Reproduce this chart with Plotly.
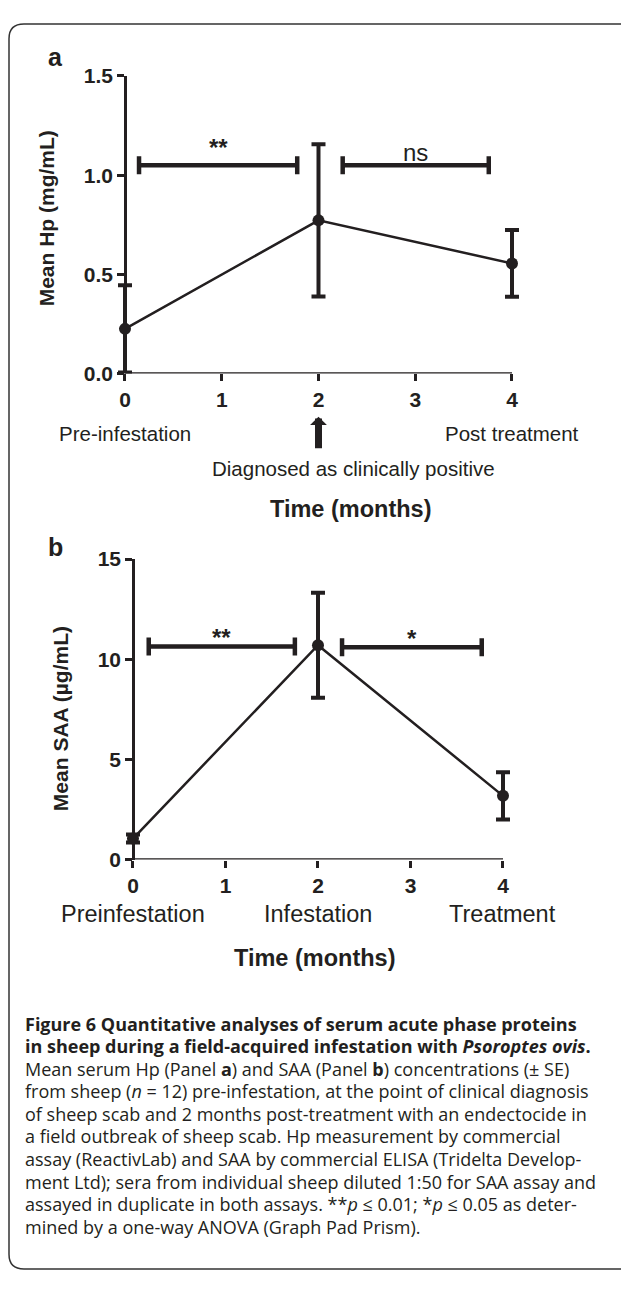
import plotly.graph_objects as go

# ---------------- data ----------------
months = [0, 2, 4]
x_ticks = [0, 1, 2, 3, 4]

hp_mean = [0.225, 0.772, 0.555]
hp_se = [0.22, 0.384, 0.168]
hp_yticks = [0, 0.5, 1.0, 1.5]
hp_yticktext = ["0.0", "0.5", "1.0", "1.5"]
hp_sig_start = [0.145, 2.25]
hp_sig_end = [1.78, 3.76]
hp_sig_y = [1.05, 1.05]
hp_sig_text = ["**", "ns"]
hp_stage_x = [0, 4]
hp_stage_text = ["Pre-infestation", "Post treatment"]

saa_mean = [1.05, 10.7, 3.18]
saa_se = [0.2, 2.62, 1.18]
saa_yticks = [0, 5, 10, 15]
saa_sig_start = [0.17, 2.26]
saa_sig_end = [1.75, 3.77]
saa_sig_y = [10.63, 10.6]
saa_sig_text = ["**", "*"]
saa_stage_x = [0, 2, 4]
saa_stage_text = ["Preinfestation", "Infestation", "Treatment"]

caption_lines = [
    "<b>Figure 6 Quantitative analyses of serum acute phase proteins</b>",
    "<b>in sheep during a field-acquired infestation with <i>Psoroptes ovis</i>.</b>",
    "Mean serum Hp (Panel <b>a</b>) and SAA (Panel <b>b</b>) concentrations (± SE)",
    "from sheep (<i>n</i> = 12) pre-infestation, at the point of clinical diagnosis",
    "of sheep scab and 2 months post-treatment with an endectocide in",
    "a field outbreak of sheep scab. Hp measurement by commercial",
    "assay (ReactivLab) and SAA by commercial ELISA (Tridelta Develop-",
    "ment Ltd); sera from individual sheep diluted 1:50 for SAA assay and",
    "assayed in duplicate in both assays. **<i>p</i> ≤ 0.01; *<i>p</i> ≤ 0.05 as deter-",
    "mined by a one-way ANOVA (Graph Pad Prism).",
]

# ---------------- layout helpers ----------------
OFF = 8                      # default page margin of the html body
W, H = 629 - 2 * OFF, 1289 - 2 * OFF
INK = "#231f20"
FONT = "Liberation Sans, Arial, sans-serif"
CAP_FONT = "Open Sans, sans-serif"


def px(v):
    return (v - OFF) / W


def py(v):
    return 1 - (v - OFF) / H


fig = go.Figure()


def add_panel(xa, ya, mean, se, sig_s, sig_e, sig_y):
    fig.add_trace(go.Scatter(
        x=months, y=mean, xaxis=xa, yaxis=ya, mode="lines+markers",
        line=dict(color=INK, width=2.5),
        marker=dict(color=INK, size=12),
        error_y=dict(type="data", array=se, visible=True, color=INK,
                     thickness=4, width=7),
        cliponaxis=False, hoverinfo="skip",
    ))
    for s, e, yv in zip(sig_s, sig_e, sig_y):
        fig.add_trace(go.Scatter(
            x=[(s + e) / 2], y=[yv], xaxis=xa, yaxis=ya, mode="markers",
            marker=dict(size=1, color="rgba(0,0,0,0)"),
            error_x=dict(type="data", array=[(e - s) / 2], visible=True,
                         color=INK, thickness=4.5, width=9),
            cliponaxis=False, hoverinfo="skip",
        ))
    # x axis line spanning exactly the tick range
    fig.add_shape(type="line", xref=xa, yref=ya, x0=x_ticks[0], x1=x_ticks[-1],
                  y0=0, y1=0, line=dict(color=INK, width=2.5))


add_panel("x", "y", hp_mean, hp_se, hp_sig_start, hp_sig_end, hp_sig_y)
add_panel("x2", "y2", saa_mean, saa_se, saa_sig_start, saa_sig_end, saa_sig_y)

axis_common = dict(
    linewidth=2.5, linecolor=INK, ticks="outside", ticklen=7,
    tickwidth=2.5, tickcolor=INK, showgrid=False, zeroline=False,
    tickfont=dict(family=FONT, size=21, color=INK, weight="bold"),
    fixedrange=True,
)

PAD = 0.15
a_x0, a_x4 = 125, 512
a_u = (a_x4 - a_x0) / 4
b_x0, b_x4 = 133, 503
b_u = (b_x4 - b_x0) / 4

fig.update_layout(
    width=W, height=H, margin=dict(l=0, r=0, t=0, b=0),
    paper_bgcolor="white", plot_bgcolor="white", showlegend=False,
    xaxis=dict(domain=[px(a_x0 - PAD * a_u), px(a_x4 + PAD * a_u)],
               range=[-PAD, 4 + PAD], tickvals=x_ticks, showline=False,
               anchor="y", **axis_common),
    yaxis=dict(domain=[py(368), py(65)], range=[0, 1.5], tickvals=hp_yticks,
               ticktext=hp_yticktext, anchor="free", position=px(a_x0),
               showline=True, **axis_common),
    xaxis2=dict(domain=[px(b_x0 - PAD * b_u), px(b_x4 + PAD * b_u)],
                range=[-PAD, 4 + PAD], tickvals=x_ticks, showline=False,
                anchor="y2", **axis_common),
    yaxis2=dict(domain=[py(863), py(557)], range=[0, 15], tickvals=saa_yticks,
                anchor="free", position=px(b_x0), showline=True, **axis_common),
)

ann = []

# significance labels
sig_shift_a = [18, 13]
for s, e, yv, t, sh in zip(hp_sig_start, hp_sig_end, hp_sig_y, hp_sig_text, sig_shift_a):
    ann.append(dict(x=(s + e) / 2, y=yv, xref="x", yref="y", text=t, showarrow=False,
                    yanchor="middle", yshift=sh,
                    font=dict(family=FONT, size=24, color=INK,
                              weight="bold" if "*" in t else "normal")))
sig_shift_b = [9, 9]
for s, e, yv, t, sh in zip(saa_sig_start, saa_sig_end, saa_sig_y, saa_sig_text, sig_shift_b):
    ann.append(dict(x=(s + e) / 2, y=yv, xref="x2", yref="y2", text=t, showarrow=False,
                    yanchor="middle", yshift=sh,
                    font=dict(family=FONT, size=24, color=INK, weight="bold")))

# stage labels
for xv, t in zip(hp_stage_x, hp_stage_text):
    ann.append(dict(x=xv, y=py(429), xref="x", yref="paper", text=t, showarrow=False,
                    xanchor="center", yanchor="middle",
                    font=dict(family=FONT, size=20.5, color=INK)))
ann.append(dict(x=px(353), y=py(465), xref="paper", yref="paper",
                text="Diagnosed as clinically positive", showarrow=False,
                xanchor="center", yanchor="middle",
                font=dict(family=FONT, size=20.5, color=INK)))
ann.append(dict(x=2, y=py(412), xref="x", yref="paper", text="", showarrow=True,
                ax=0, ay=33, arrowhead=1, arrowwidth=7, arrowsize=0.4,
                arrowcolor=INK, standoff=0))
for xv, t in zip(saa_stage_x, saa_stage_text):
    ann.append(dict(x=xv, y=py(918), xref="x2", yref="paper", text=t, showarrow=False,
                    xanchor="center", yanchor="middle",
                    font=dict(family=FONT, size=23.5, color=INK)))

# axis titles
ann.append(dict(x=px(350), y=py(506), xref="paper", yref="paper", text="Time (months)",
                showarrow=False, xanchor="center", yanchor="middle",
                font=dict(family=FONT, size=23.5, color=INK, weight="bold")))
ann.append(dict(x=px(314), y=py(963), xref="paper", yref="paper", text="Time (months)",
                showarrow=False, xanchor="center", yanchor="middle",
                font=dict(family=FONT, size=23.5, color=INK, weight="bold")))
ann.append(dict(x=px(46), y=py(210), xref="paper", yref="paper", text="Mean Hp (mg/mL)",
                showarrow=False, textangle=-90, xanchor="center", yanchor="middle",
                font=dict(family=FONT, size=21, color=INK, weight="bold")))
ann.append(dict(x=px(60), y=py(720), xref="paper", yref="paper", text="Mean SAA (µg/mL)",
                showarrow=False, textangle=-90, xanchor="center", yanchor="middle",
                font=dict(family=FONT, size=21, color=INK, weight="bold")))

# panel letters
ann.append(dict(x=px(55), y=py(46), xref="paper", yref="paper", text="a", showarrow=False,
                xanchor="center", yanchor="middle",
                font=dict(family=FONT, size=25, color=INK, weight="bold")))
ann.append(dict(x=px(56), y=py(545), xref="paper", yref="paper", text="b", showarrow=False,
                xanchor="center", yanchor="middle",
                font=dict(family=FONT, size=25, color=INK, weight="bold")))

# caption
for i, line in enumerate(caption_lines):
    ann.append(dict(x=px(23), y=py(1030 + 23 * i), xref="paper", yref="paper", text=line,
                    showarrow=False, xanchor="left", yanchor="middle", align="left",
                    font=dict(family=CAP_FONT, size=18, color=INK)))

fig.update_layout(annotations=ann)

# frame (rounded top-left / bottom-left corners), kept inside the figure
r = 15
path = (f"M 1,{py(12)} L {px(9 + r)},{py(12)} "
        f"Q {px(9)},{py(12)} {px(9)},{py(12 + r)} "
        f"L {px(9)},{py(1280 - r)} Q {px(9)},{py(1280)} {px(9 + r)},{py(1280)} "
        f"L 1,{py(1280)}")
fig.add_shape(type="path", path=path, xref="paper", yref="paper",
              line=dict(color="#333333", width=1.5))

fig.write_html("out.html", config={"displayModeBar": False})
